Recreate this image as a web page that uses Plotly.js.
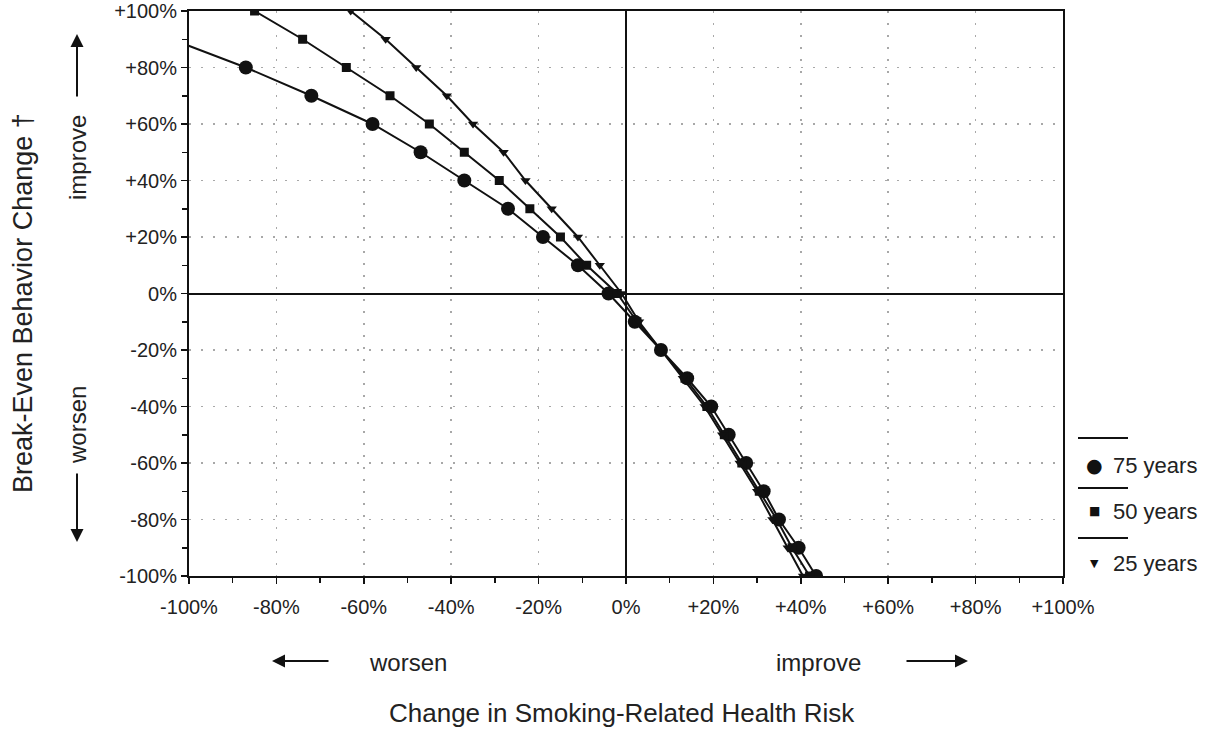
<!DOCTYPE html>
<html>
<head>
<meta charset="utf-8">
<script src="https://cdn.plot.ly/plotly-3.0.1.min.js"></script>
<style>html,body{margin:0;padding:0;background:#fff;}#chart{width:1210px;height:731px;}</style>
</head>
<body>
<div id="chart"></div>
<script>
// ---- data ----
const seriesNames = ['75 years', '50 years', '25 years'];
const y75 = [90, 80, 70, 60, 50, 40, 30, 20, 10, 0, -10, -20, -30, -40, -50, -60, -70, -80, -90, -100];
const x75 = [-104, -87, -72, -58, -47, -37, -27, -19, -11, -4, 2, 8, 14, 19.5, 23.5, 27.5, 31.5, 35, 39.5, 43.5];
const y50 = [100, 90, 80, 70, 60, 50, 40, 30, 20, 10, 0, -10, -20, -30, -40, -50, -60, -70, -80, -90, -100];
const x50 = [-85, -74, -64, -54, -45, -37, -29, -22, -15, -9, -2, 2.5, 8, 13.5, 18.5, 22.5, 26.5, 30.5, 34.5, 38, 42];
const y25 = [100, 90, 80, 70, 60, 50, 40, 30, 20, 10, 0, -10, -20, -30, -40, -50, -60, -70, -80, -90, -100];
const x25 = [-63, -55, -48, -41, -35, -28, -23, -17, -11, -6, -1, 3, 8, 13, 18, 22, 26, 30, 33.5, 37, 40.5];
const tickVals = [-100, -80, -60, -40, -20, 0, 20, 40, 60, 80, 100];
const tickText = ['-100%', '-80%', '-60%', '-40%', '-20%', '0%', '+20%', '+40%', '+60%', '+80%', '+100%'];

const FONT = 'Liberation Sans, Arial, sans-serif';
const INK = '#111';

const markerStyles = [
  {symbol: 'circle', size: 14},
  {symbol: 'square', size: 9},
  {symbol: 'triangle-down', size: 9}
];
const xs = [x75, x50, x25];
const ys = [y75, y50, y25];

const traces = xs.map((x, i) => ({
  type: 'scatter', mode: 'lines+markers', name: seriesNames[i],
  x: x, y: ys[i],
  line: {color: INK, width: 2},
  marker: {color: INK, symbol: markerStyles[i].symbol, size: markerStyles[i].size},
  showlegend: false, cliponaxis: true
}));

// plot area in pixels: left 189, right 1063, top 11, bottom 576
const L = 189, R = 1063, T = 11, B = 576;
const px = v => (v - L) / (R - L);
const py = v => (B - v) / (B - T);

const ann = [];
const txt = (x, y, text, size, angle) => ann.push({
  xref: 'paper', yref: 'paper', x: px(x), y: py(y), text: text, showarrow: false,
  textangle: angle || 0, font: {family: FONT, size: size, color: '#222'},
  xanchor: 'center', yanchor: 'middle'
});
const arrow = (hx, hy, ax, ay) => ann.push({
  xref: 'paper', yref: 'paper', x: px(hx), y: py(hy), text: '', showarrow: true,
  ax: ax, ay: ay, arrowhead: 2, arrowsize: 1.3, arrowwidth: 2, arrowcolor: INK
});

txt(23, 303, 'Break-Even Behavior Change †', 27, -90);
txt(77, 158, 'improve', 24, -90);
txt(77, 425, 'worsen', 24, -90);
arrow(77, 34, 0, 64);
arrow(77, 542, 0, -70);
txt(408, 662, 'worsen', 24);
txt(818, 662, 'improve', 24);
arrow(272, 661, 58, 0);
arrow(968, 661, -63, 0);
txt(622, 713, 'Change in Smoking-Related Health Risk', 26);

// legend (custom, like the original)
const legY = [465, 511, 563];
const legLineY = [438, 488, 538];
const glyphs = ['●', '■', '▼'];
const glyphSize = [19, 12, 11];
const shapes = [];
seriesNames.forEach((n, i) => {
  shapes.push({type: 'line', xref: 'paper', yref: 'paper', x0: px(1078), x1: px(1128),
    y0: py(legLineY[i]), y1: py(legLineY[i]), line: {color: INK, width: 2}});
  ann.push({xref: 'paper', yref: 'paper', x: px(1094), y: py(legY[i]), text: glyphs[i],
    showarrow: false, xanchor: 'center', yanchor: 'middle',
    font: {family: 'DejaVu Sans', size: glyphSize[i], color: INK}});
  ann.push({xref: 'paper', yref: 'paper', x: px(1111), y: py(legY[i]), text: n,
    showarrow: false, xanchor: 'left', yanchor: 'middle',
    font: {family: FONT, size: 22, color: '#222'}});
});

const axisCommon = {
  range: [-100, 100], tickmode: 'array', tickvals: tickVals, ticktext: tickText,
  showline: true, mirror: true, linecolor: INK, linewidth: 2,
  ticks: 'outside', ticklen: 6, tickwidth: 1.5, tickcolor: INK,
  showgrid: true, gridcolor: '#a8a8a8', gridwidth: 1.5, griddash: '2px,10px',
  zeroline: true, zerolinecolor: INK, zerolinewidth: 2,
  tickfont: {family: FONT, size: 20, color: '#222'},
  ticklabeloverflow: 'allow',
  minor: {dtick: 10, tick0: 0, ticks: 'outside', ticklen: 5, tickwidth: 1.5, tickcolor: INK, showgrid: false},
  fixedrange: true
};

const layout = {
  width: 1210, height: 731,
  margin: {l: L, r: 1210 - R, t: T, b: 731 - B},
  paper_bgcolor: '#fff', plot_bgcolor: '#fff',
  xaxis: Object.assign({}, axisCommon, {ticklabelstandoff: 6}),
  yaxis: Object.assign({}, axisCommon),
  annotations: ann, shapes: shapes, showlegend: false
};

Plotly.newPlot('chart', traces, layout, {staticPlot: true, displayModeBar: false});
</script>
</body>
</html>
